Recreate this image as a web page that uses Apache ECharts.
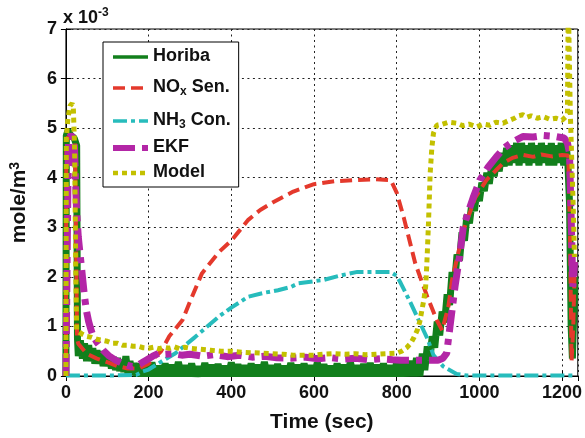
<!DOCTYPE html>
<html>
<head>
<meta charset="utf-8">
<script src="https://cdn.jsdelivr.net/npm/echarts@6/dist/echarts.min.js"></script>
<style>html,body{margin:0;padding:0;background:#fff}#c{width:585px;height:438px}</style>
</head>
<body>
<div id="c"></div>
<script>
// ---- data (time in sec, value in 1e-3 mole/m^3) ----
const xTicks = [0, 200, 400, 600, 800, 1000, 1200];
const yTicks = [0, 1, 2, 3, 4, 5, 6, 7];
const seriesNames = ['Horiba', 'NOx Sen.', 'NH3 Con.', 'EKF', 'Model'];

const horiba = [[0,0],[1,4.85],[5,4.95],[12,4.85],[20,4.8],[26,4.65],[28,0.75],
[30,0.4],[35,0.72],[40,0.35],[45,0.66],[50,0.3],[55,0.62],[60,0.3],[65,0.56],[70,0.25],[75,0.52],[80,0.25],[85,0.5],[90,0.2],[95,0.46],[100,0.2],[105,0.42],[110,0.15],[115,0.38],[120,0.12],[125,0.36],[130,0.1],[135,0.33],[140,0.08],[145,0.4],[150,0.05],[155,0.3],[160,0.03],[165,0.26],[170,0.0],
[176,0.25],[184,0.0],[192,0.23],[200,0.0],[208,0.27],[216,0.0],[224,0.2],[232,0.0],[240,0.25],[248,0.0],[256,0.22],[264,0.0],[272,0.28],[280,0.0],[288,0.21],[296,0.0],[304,0.25],[312,0.0],[320,0.19],[328,0.0],[336,0.26],[344,0.0],[352,0.22],[360,0.0],[368,0.24],[376,0.0],[384,0.2],[392,0.0],[400,0.27],[408,0.0],[416,0.23],[424,0.0],[432,0.21],[440,0.0],[448,0.25],[456,0.0],[464,0.22],[472,0.0],[480,0.28],[488,0.0],[496,0.21],[504,0.0],[512,0.24],[520,0.0],[528,0.2],[536,0.0],[544,0.26],[552,0.0],[560,0.22],[568,0.0],[576,0.25],[584,0.0],[592,0.21],[600,0.0],[608,0.27],[616,0.0],[624,0.23],[632,0.0],[640,0.2],[648,0.0],[656,0.25],[664,0.0],[672,0.22],[680,0.0],[688,0.28],[696,0.0],[704,0.21],[712,0.0],[720,0.24],[728,0.0],[736,0.26],[744,0.0],[752,0.22],[760,0.0],[768,0.25],[776,0.0],[784,0.21],[792,0.0],[800,0.27],[808,0.0],[816,0.25],[824,0.0],[832,0.3],[840,0.0],[848,0.36],[856,0.0],
[862,0.45],[868,0.12],[874,0.6],[880,0.32],[886,0.8],[892,0.57],[898,1.1],[904,0.82],[910,1.3],[916,1.08],[922,1.65],[928,1.43],[934,2.1],[940,1.88],[946,2.45],[952,2.33],[958,2.9],[964,2.73],[970,3.25],[976,3.08],[982,3.5],[988,3.33],[994,3.75],[1000,3.53],[1006,3.9],[1012,3.73],[1018,4.1],[1024,3.88],[1030,4.25],[1036,4.03],[1042,4.4],[1048,4.13],[1054,4.5],[1060,4.23],[1066,4.6],[1072,4.25],[1078,4.65],[1084,4.3],[1090,4.7],[1096,4.25],[1102,4.7],[1108,4.3],[1114,4.65],[1120,4.25],[1126,4.7],[1132,4.3],[1138,4.65],[1144,4.25],[1150,4.7],[1156,4.3],[1162,4.65],[1168,4.25],[1174,4.7],[1180,4.25],[1186,4.65],[1192,4.3],[1198,4.7],[1204,4.25],[1210,4.65],[1214,4.3],[1218,3.5],[1222,1.0],[1225,0.35],[1228,1.2],[1231,2.0]];

const noxSen = [[0,0],[1,4.8],[22,4.8],[27,0.75],[30,0.65],[50,0.45],[75,0.35],[100,0.28],[125,0.2],[150,0.15],[175,0.15],[200,0.25],[230,0.5],[250,0.8],[282,1.13],[305,1.6],[329,2.07],[370,2.5],[401,2.74],[441,3.15],[470,3.35],[500,3.5],[550,3.72],[600,3.87],[650,3.93],[700,3.95],[750,3.97],[786,3.95],[800,3.7],[817,3.2],[845,2.27],[874,1.6],[897,1.13],[910,0.92],[925,1.4],[934,1.94],[962,2.95],[990,3.6],[1017,3.95],[1040,4.15],[1057,4.29],[1080,4.4],[1105,4.46],[1130,4.42],[1150,4.47],[1175,4.43],[1200,4.46],[1215,4.45],[1219,3.0],[1223,0.3],[1227,1.0],[1231,2.3]];

const nh3Con = [[0,0.01],[100,0.01],[170,0.02],[186,0.09],[200,0.13],[225,0.26],[265,0.46],[313,0.79],[370,1.2],[400,1.38],[441,1.6],[480,1.68],[513,1.73],[545,1.8],[562,1.87],[625,1.94],[665,2.03],[705,2.1],[750,2.1],[785,2.1],[800,2.02],[810,1.87],[834,1.47],[853,1.13],[874,0.76],[889,0.42],[913,0.19],[945,0.04],[970,0.01],[1232,0.01]];

const ekf = [[0,0],[4,0],[6,4.8],[12,4.85],[20,4.8],[23,4.0],[26,3.3],[30,2.8],[35,2.4],[40,2.0],[45,1.6],[50,1.3],[55,1.1],[60,0.95],[65,0.82],[75,0.68],[90,0.52],[105,0.4],[120,0.32],[140,0.24],[160,0.19],[175,0.22],[190,0.3],[210,0.4],[225,0.46],[240,0.44],[260,0.45],[280,0.42],[300,0.44],[330,0.4],[360,0.43],[390,0.39],[420,0.42],[450,0.38],[480,0.4],[510,0.37],[545,0.36],[580,0.38],[610,0.35],[640,0.37],[670,0.34],[700,0.36],[730,0.33],[760,0.35],[790,0.33],[810,0.32],[850,0.32],[900,0.32],[912,0.36],[921,0.46],[929,1.0],[941,1.8],[953,2.47],[961,3.0],[969,3.2],[985,3.6],[1001,3.95],[1020,4.2],[1041,4.42],[1060,4.6],[1080,4.72],[1105,4.83],[1130,4.82],[1155,4.85],[1185,4.83],[1205,4.8],[1213,4.7],[1218,4.5],[1222,3.2],[1226,1.8],[1230,2.3]];

const model = [[0,0],[1,4.8],[5,5.2],[10,5.45],[15,5.5],[18,5.4],[21,4.6],[24,2.0],[26,0.92],[30,0.88],[40,0.84],[50,0.8],[62,0.78],[75,0.74],[88,0.72],[100,0.7],[112,0.66],[125,0.66],[137,0.62],[150,0.62],[162,0.6],[175,0.6],[187,0.57],[200,0.56],[212,0.58],[225,0.55],[237,0.58],[250,0.56],[262,0.59],[275,0.55],[287,0.58],[300,0.56],[325,0.54],[350,0.52],[375,0.5],[400,0.5],[425,0.48],[450,0.47],[475,0.46],[500,0.45],[525,0.44],[550,0.42],[575,0.42],[600,0.42],[625,0.44],[650,0.45],[675,0.44],[700,0.45],[725,0.43],[750,0.44],[775,0.45],[800,0.46],[812,0.5],[824,0.57],[834,0.66],[842,0.78],[850,0.93],[856,1.1],[861,1.33],[866,1.55],[870,1.8],[872,2.1],[874,2.47],[877,3.1],[879,3.6],[881,4.09],[885,4.6],[889,4.9],[897,5.06],[910,5.08],[925,5.12],[945,5.1],[960,5.05],[975,5.08],[994,5.03],[1010,5.08],[1025,5.06],[1040,5.12],[1057,5.1],[1070,5.15],[1085,5.2],[1095,5.25],[1105,5.27],[1115,5.22],[1125,5.25],[1140,5.2],[1155,5.23],[1170,5.18],[1185,5.2],[1200,5.16],[1209,5.23],[1213,5.3],[1215,7.6],[1218,7.6],[1220,5.3],[1224,4.2],[1227,3.4],[1230,2.4]];

// ---- chart ----
const FONT = 'Liberation Sans, Arial, Helvetica, sans-serif';
const chart = echarts.init(document.getElementById('c'), null, {renderer: 'canvas'});
const axisCommon = {
  type: 'value',
  axisLine: {show: true, lineStyle: {color: '#000', width: 1}},
  axisTick: {show: true, inside: true, length: 5, lineStyle: {color: '#000'}},
};
const richMain = {fontFamily: FONT, fontWeight: 'bold', fontSize: 18, color: '#111', lineHeight: 20, verticalAlign: 'top'};
const richSub = {fontFamily: FONT, fontWeight: 'bold', fontSize: 12, color: '#111', lineHeight: 12, padding: [14, 0, 0, 0], verticalAlign: 'bottom'};
const legendFmt = {
  'Horiba': '{n|Horiba}',
  'NOx Sen.': '{n|NO}{s|x}{n| Sen.}',
  'NH3 Con.': '{n|NH}{s|3}{n| Con.}',
  'EKF': '{n|EKF}',
  'Model': '{n|Model}'
};
const colors = ['#127f1c', '#e4392c', '#27bcbc', '#b326a6', '#c3c000'];
const styles = [
  {width: 7, legendWidth: 3.5, type: 'solid'},
  {width: 4, legendWidth: 3.5, type: [12, 6]},
  {width: 4, legendWidth: 3.5, type: [14, 4, 4, 4]},
  {width: 7, legendWidth: 6, type: [22, 7, 6, 7]},
  {width: 5, legendWidth: 4.5, type: [5, 4]}
];
const datas = [horiba, noxSen, nh3Con, ekf, model];

const option = {
  animation: false,
  backgroundColor: '#fff',
  grid: {left: 63, right: 6, top: 29, bottom: 62, show: true, borderColor: '#000', borderWidth: 1, backgroundColor: 'transparent'},
  xAxis: [
    Object.assign({}, axisCommon, {
      position: 'bottom', min: xTicks[0], max: 1238, interval: xTicks[1] - xTicks[0],
      name: 'Time (sec)', nameLocation: 'middle', nameGap: 36,
      nameTextStyle: {fontFamily: FONT, fontWeight: 'bold', fontSize: 21, color: '#111'},
      axisLabel: {showMaxLabel: false, margin: 8, fontFamily: FONT, fontWeight: 'bold', fontSize: 18, color: '#111',
        formatter: function (v) { return String(v); }},
      splitLine: {show: true, lineStyle: {color: '#222', width: 1, type: [2, 3.5]}}
    }),
    Object.assign({}, axisCommon, {
      position: 'top', min: xTicks[0], max: 1238, interval: xTicks[1] - xTicks[0],
      axisLabel: {show: false}, splitLine: {show: false}
    })
  ],
  yAxis: [
    Object.assign({}, axisCommon, {
      position: 'left', min: yTicks[0], max: yTicks[yTicks.length - 1], interval: 1,
      name: '{a|mole/m}{b|3}', nameLocation: 'middle', nameGap: 33,
      nameTextStyle: {rich: {
        a: {fontFamily: FONT, fontWeight: 'bold', fontSize: 21, color: '#111', lineHeight: 22, verticalAlign: 'bottom'},
        b: {fontFamily: FONT, fontWeight: 'bold', fontSize: 14, color: '#111', lineHeight: 14, padding: [0, 0, 14, 0], verticalAlign: 'top'}
      }},
      axisLabel: {margin: 9, fontFamily: FONT, fontWeight: 'bold', fontSize: 18, color: '#111'},
      splitLine: {show: true, lineStyle: {color: '#222', width: 1, type: [2, 3.5]}}
    }),
    Object.assign({}, axisCommon, {
      position: 'right', min: yTicks[0], max: yTicks[yTicks.length - 1], interval: 1,
      axisLabel: {show: false}, splitLine: {show: false}
    })
  ],
  legend: {
    show: true, orient: 'vertical', left: 103, top: 42,
    data: seriesNames.map(function (nm, i) {
      return {name: nm, lineStyle: {width: styles[i].legendWidth, type: styles[i].type, color: colors[i]}};
    }),
    backgroundColor: '#fff', borderColor: '#000', borderWidth: 1,
    padding: [5, 8, 6, 7], itemGap: 7, itemWidth: 35, itemHeight: 12,
    selectedMode: false,
    itemStyle: {color: 'rgba(0,0,0,0)', borderWidth: 0, opacity: 0},
    formatter: function (name) { return legendFmt[name]; },
    textStyle: {rich: {n: richMain, s: richSub}}
  },
  graphic: [{
    type: 'text', left: 63, top: 7,
    style: {
      text: '{a|x 10}{b|-3}',
      rich: {
        a: {fontFamily: FONT, fontWeight: 'bold', fontSize: 18, fill: '#111', lineHeight: 20, verticalAlign: 'bottom'},
        b: {fontFamily: FONT, fontWeight: 'bold', fontSize: 12, fill: '#111', lineHeight: 12, padding: [0, 0, 10, 0], verticalAlign: 'top'}
      }
    }
  }],
  series: seriesNames.map(function (nm, i) {
    return {
      name: nm, type: 'line', xAxisIndex: 0, yAxisIndex: 0,
      data: datas[i], symbol: 'none', showSymbol: false, clip: true,
      color: colors[i],
      lineStyle: {color: colors[i], width: styles[i].width, type: styles[i].type, cap: 'butt', join: 'bevel'},
      emphasis: {disabled: true}
    };
  })
};
chart.setOption(option);
</script>
</body>
</html>
